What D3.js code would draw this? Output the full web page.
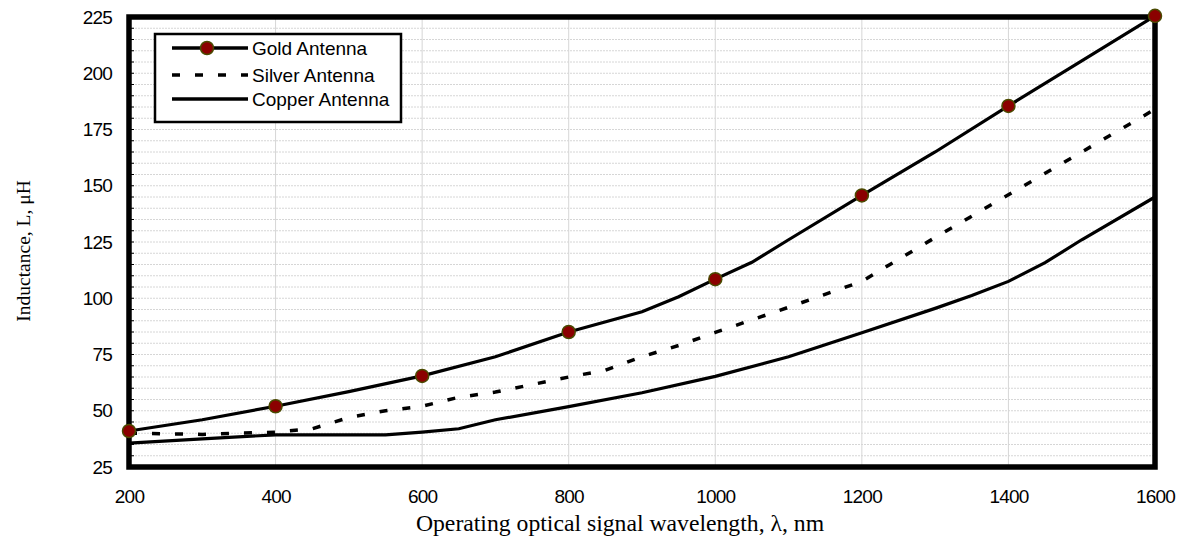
<!DOCTYPE html>
<html><head><meta charset="utf-8">
<script src="https://cdn.jsdelivr.net/npm/d3@7"></script>
<style>
body{margin:0;background:#fff;}
svg{display:block;}
</style></head>
<body>
<svg id="chart" width="1181" height="550"></svg>
<script>
// ---- data ----
const xTicks = [200, 400, 600, 800, 1000, 1200, 1400, 1600];
const yTicks = [25, 50, 75, 100, 125, 150, 175, 200, 225];

const goldX   = [200, 300, 400, 500, 600, 700, 800, 900, 950, 1000, 1050, 1100, 1200, 1300, 1400, 1500, 1600];
const goldY   = [41, 46, 52, 58.5, 65.5, 74, 85, 94, 100.7, 108.5, 116, 126, 145.7, 165, 185.5, 205.5, 225.5];

const markerX = [200, 400, 600, 800, 1000, 1200, 1400, 1600];
const markerY = [41, 52, 65.5, 85, 108.5, 145.7, 185.5, 225.5];

const silverX = [200, 300, 400, 450, 500, 550, 600, 650, 700, 800, 850, 900, 950, 1000, 1100, 1200, 1300, 1400, 1500, 1600];
const silverY = [40, 39.5, 40.5, 42, 47, 50, 52, 56, 58.3, 65, 68, 74, 79, 84.8, 96, 107.5, 127, 146, 165, 184];

const copperX = [200, 300, 400, 550, 600, 650, 700, 800, 900, 1000, 1100, 1200, 1300, 1350, 1400, 1450, 1500, 1600];
const copperY = [35.6, 37.5, 39.3, 39.3, 40.5, 42, 46, 51.8, 58, 65.3, 74, 84.7, 95.5, 101.2, 107.5, 115.8, 126, 145];

const seriesNames = ["Gold Antenna", "Silver Antenna", "Copper Antenna"];
const xTitle = "Operating optical signal wavelength, λ, nm";
const yTitle = "Inductance, L, μH";

// ---- layout ----
const L = 129, R = 1155, T = 17, B = 467;
const svg = d3.select("#chart");
const x = d3.scaleLinear().domain([200, 1600]).range([L, R]);
const y = d3.scaleLinear().domain([25, 225]).range([B, T]);

// grid
const g = svg.append("g");
const minor = d3.range(30, 225, 5);
g.selectAll("line.hg").data(minor).join("line")
  .attr("x1", L).attr("x2", R)
  .attr("y1", d => y(d)).attr("y2", d => y(d))
  .attr("stroke", "#d6d6d6").attr("stroke-width", 1).attr("stroke-dasharray", "2,1");
g.selectAll("line.vg").data(xTicks.slice(1, -1)).join("line")
  .attr("x1", d => x(d)).attr("x2", d => x(d))
  .attr("y1", T).attr("y2", B)
  .attr("stroke", "#d6d6d6").attr("stroke-width", 1);

// minor ticks on left axis (inside)
g.selectAll("line.mt").data(minor).join("line")
  .attr("x1", L).attr("x2", L + 5)
  .attr("y1", d => y(d)).attr("y2", d => y(d))
  .attr("stroke", "#000").attr("stroke-width", 1);

// axes labels
const ax = svg.append("g").attr("transform", `translate(0,${B})`)
  .call(d3.axisBottom(x).tickValues(xTicks).tickSize(0).tickPadding(23).tickFormat(d3.format("d")));
ax.select(".domain").remove();
ax.selectAll("text").attr("font-family", "Liberation Sans, Arial, sans-serif")
  .attr("font-size", 19).attr("letter-spacing", "-0.8px").attr("fill", "#000");

const ay = svg.append("g").attr("transform", `translate(${L},0)`)
  .call(d3.axisLeft(y).tickValues(yTicks).tickSize(0).tickPadding(17).tickFormat(d3.format("d")));
ay.select(".domain").remove();
ay.selectAll("text").attr("font-family", "Liberation Sans, Arial, sans-serif")
  .attr("font-size", 19).attr("letter-spacing", "-0.8px").attr("fill", "#000");

// series
const line = d3.line().x(d => x(d[0])).y(d => y(d[1]));
const zip = (a, b) => a.map((v, i) => [v, b[i]]);

svg.append("path").datum(zip(copperX, copperY)).attr("d", line)
  .attr("fill", "none").attr("stroke", "#000").attr("stroke-width", 3.2);
svg.append("path").datum(zip(silverX, silverY)).attr("d", line)
  .attr("fill", "none").attr("stroke", "#000").attr("stroke-width", 3.5)
  .attr("stroke-dasharray", "8,15");
svg.append("path").datum(zip(goldX, goldY)).attr("d", line)
  .attr("fill", "none").attr("stroke", "#000").attr("stroke-width", 3.2);

// frame
svg.append("rect").attr("x", L).attr("y", T).attr("width", R - L).attr("height", B - T)
  .attr("fill", "none").attr("stroke", "#000").attr("stroke-width", 5.5);

// markers
svg.selectAll("circle.m").data(zip(markerX, markerY)).join("circle")
  .attr("cx", d => x(d[0])).attr("cy", d => y(d[1])).attr("r", 6.5)
  .attr("fill", "#8b0000").attr("stroke", "#4a4a00").attr("stroke-width", 1.5);

// legend
const lg = svg.append("g");
lg.append("rect").attr("x", 155).attr("y", 34).attr("width", 246).attr("height", 88)
  .attr("fill", "#fff").attr("stroke", "#000").attr("stroke-width", 2.5);
const rows = [48, 75, 99];
rows.forEach((ry, i) => {
  const ln = lg.append("line").attr("x1", 172).attr("x2", 248).attr("y1", ry).attr("y2", ry)
    .attr("stroke", "#000").attr("stroke-width", 3.5);
  if (i === 1) ln.attr("stroke-dasharray", "8,15");
  lg.append("text").attr("x", 252).attr("y", ry + 7).text(seriesNames[i])
    .attr("font-family", "Liberation Sans, Arial, sans-serif").attr("font-size", 19).attr("fill", "#000");
});
lg.append("circle").attr("cx", 207).attr("cy", rows[0]).attr("r", 6.5)
  .attr("fill", "#8b0000").attr("stroke", "#4a4a00").attr("stroke-width", 1.5);

// titles
svg.append("text").attr("x", 620).attr("y", 531).attr("text-anchor", "middle")
  .attr("font-family", "Liberation Serif, Times New Roman, serif").attr("font-size", 23.7).text(xTitle);
svg.append("text").attr("transform", "translate(30,251) rotate(-90)").attr("text-anchor", "middle")
  .attr("font-family", "Liberation Serif, Times New Roman, serif").attr("font-size", 19.5).text(yTitle);
</script>
</body></html>
